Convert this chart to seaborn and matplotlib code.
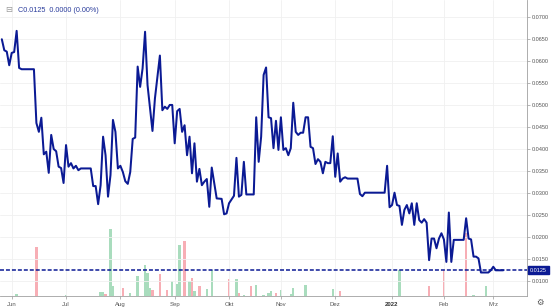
import numpy as np
import pandas as pd
import matplotlib
matplotlib.use("Agg")
import matplotlib.pyplot as plt
import matplotlib.transforms as mtransforms
import seaborn as sns

# ---------------- data ----------------
dates = [
    "2021-05-26", "2021-05-27", "2021-05-28", "2021-05-31", "2021-06-01", "2021-06-02", "2021-06-03",
    "2021-06-04", "2021-06-07", "2021-06-14", "2021-06-15", "2021-06-16", "2021-06-17", "2021-06-18",
    "2021-06-21", "2021-06-22", "2021-06-23", "2021-06-24", "2021-06-25", "2021-06-28", "2021-06-29",
    "2021-06-30", "2021-07-01", "2021-07-02", "2021-07-05", "2021-07-06", "2021-07-07", "2021-07-08",
    "2021-07-09", "2021-07-15", "2021-07-16", "2021-07-19", "2021-07-20", "2021-07-21", "2021-07-22",
    "2021-07-23", "2021-07-26", "2021-07-27", "2021-07-28", "2021-07-29", "2021-07-30", "2021-08-02",
    "2021-08-03", "2021-08-04", "2021-08-05", "2021-08-06", "2021-08-09", "2021-08-10", "2021-08-11",
    "2021-08-12", "2021-08-13", "2021-08-16", "2021-08-17", "2021-08-18", "2021-08-19", "2021-08-20",
    "2021-08-24", "2021-08-25", "2021-08-26", "2021-08-27", "2021-08-30", "2021-08-31", "2021-09-01",
    "2021-09-02", "2021-09-03", "2021-09-06", "2021-09-07", "2021-09-08", "2021-09-09", "2021-09-10",
    "2021-09-13", "2021-09-14", "2021-09-15", "2021-09-16", "2021-09-17", "2021-09-20", "2021-09-21",
    "2021-09-22", "2021-09-24", "2021-09-28", "2021-09-29", "2021-09-30", "2021-10-01", "2021-10-05",
    "2021-10-06", "2021-10-07", "2021-10-08", "2021-10-11", "2021-10-12", "2021-10-15", "2021-10-18",
    "2021-10-19", "2021-10-20", "2021-10-21", "2021-10-22", "2021-10-25", "2021-10-26", "2021-10-27",
    "2021-10-28", "2021-10-29", "2021-11-01", "2021-11-02", "2021-11-03", "2021-11-04", "2021-11-05",
    "2021-11-08", "2021-11-09", "2021-11-10", "2021-11-11", "2021-11-12", "2021-11-15", "2021-11-16",
    "2021-11-17", "2021-11-18", "2021-11-19", "2021-11-22", "2021-11-23", "2021-11-24", "2021-11-25",
    "2021-11-26", "2021-11-29", "2021-11-30", "2021-12-01", "2021-12-02", "2021-12-03", "2021-12-06",
    "2021-12-07", "2021-12-08", "2021-12-14", "2021-12-15", "2021-12-16", "2021-12-17", "2021-12-29",
    "2021-12-30", "2021-12-31", "2022-01-03", "2022-01-04", "2022-01-05", "2022-01-06", "2022-01-07",
    "2022-01-10", "2022-01-11", "2022-01-12", "2022-01-13", "2022-01-14", "2022-01-17", "2022-01-18",
    "2022-01-19", "2022-01-20", "2022-01-21", "2022-01-24", "2022-01-25", "2022-01-26", "2022-01-27",
    "2022-01-28", "2022-01-31", "2022-02-01", "2022-02-02", "2022-02-03", "2022-02-04", "2022-02-07",
    "2022-02-11", "2022-02-14", "2022-02-15", "2022-02-16", "2022-02-17", "2022-02-18", "2022-02-21",
    "2022-02-22", "2022-02-25", "2022-02-28", "2022-03-01", "2022-03-02", "2022-03-07",
]
prices = [
    0.0649, 0.0624, 0.0621, 0.0590, 0.0618, 0.0620, 0.0668,
    0.0584, 0.0581, 0.0581, 0.0459, 0.0439, 0.0471, 0.0388,
    0.0394, 0.0346, 0.0432, 0.0400, 0.0395, 0.0360, 0.0357,
    0.0323, 0.0409, 0.0360, 0.0368, 0.0356, 0.0362, 0.0352,
    0.0356, 0.0356, 0.0316, 0.0316, 0.0275, 0.0318, 0.0428,
    0.0386, 0.0292, 0.0341, 0.0466, 0.0439, 0.0356, 0.0362,
    0.0348, 0.0327, 0.0321, 0.0348, 0.0423, 0.0426, 0.0587,
    0.0541, 0.0583, 0.0666, 0.0545, 0.0492, 0.0441, 0.0515,
    0.0612, 0.0488, 0.0496, 0.0491, 0.0500, 0.0500, 0.0413,
    0.0486, 0.0491, 0.0439, 0.0454, 0.0386, 0.0428, 0.0345,
    0.0413, 0.0326, 0.0355, 0.0318, 0.0326, 0.0332, 0.0269,
    0.0358, 0.0288, 0.0287, 0.0252, 0.0254, 0.0277, 0.0294,
    0.0380, 0.0292, 0.0296, 0.0371, 0.0297, 0.0297, 0.0472,
    0.0371, 0.0428, 0.0568, 0.0585, 0.0472, 0.0470, 0.0402,
    0.0464, 0.0398, 0.0472, 0.0398, 0.0402, 0.0386, 0.0402,
    0.0505, 0.0439, 0.0432, 0.0437, 0.0437, 0.0472, 0.0472,
    0.0405, 0.0402, 0.0366, 0.0377, 0.0371, 0.0345, 0.0371,
    0.0368, 0.0368, 0.0429, 0.0337, 0.0390, 0.0326, 0.0333,
    0.0336, 0.0333, 0.0333, 0.0298, 0.0293, 0.0301, 0.0301,
    0.0362, 0.0268, 0.0273, 0.0301, 0.0273, 0.0271, 0.0228,
    0.0262, 0.0273, 0.0254, 0.0277, 0.0228, 0.0277, 0.0239,
    0.0233, 0.0241, 0.0233, 0.0148, 0.0197, 0.0197, 0.0175,
    0.0197, 0.0209, 0.0195, 0.0144, 0.0256, 0.0144, 0.0194,
    0.0194, 0.0243, 0.0197, 0.0195, 0.0156, 0.0156, 0.0152,
    0.0120, 0.0120, 0.0125, 0.0133, 0.0125, 0.0125,
]

vol_dates = [
    "2021-06-03", "2021-06-15", "2021-07-01", "2021-07-21", "2021-07-22", "2021-07-23", "2021-07-27",
    "2021-07-28", "2021-08-03", "2021-08-06", "2021-08-11", "2021-08-16", "2021-08-17", "2021-08-18",
    "2021-08-19", "2021-08-24", "2021-08-27", "2021-08-31", "2021-09-02", "2021-09-03", "2021-09-07",
    "2021-09-09", "2021-09-10", "2021-09-13", "2021-09-15", "2021-09-20", "2021-09-22", "2021-10-01",
    "2021-10-06", "2021-10-07", "2021-10-11", "2021-10-14", "2021-10-18", "2021-10-21", "2021-10-25",
    "2021-10-26", "2021-10-28", "2021-11-01", "2021-11-05", "2021-11-08", "2021-11-15", "2021-11-30",
    "2021-12-03", "2022-01-06", "2022-01-24", "2022-02-01", "2022-02-14", "2022-02-17", "2022-02-24",
]
vol_values = [
    2200, 49500, 1000, 3800, 3800, 2500, 67500,
    10500, 8500, 2800, 20500, 31500, 22800, 8200,
    6000, 22000, 6000, 15200, 12200, 51500, 55500,
    15500, 18000, 5000, 10500, 7000, 26200, 17200,
    17000, 3500, 1500, 10500, 11500, 1500, 2800,
    4700, 3500, 6200, 2200, 8200, 11500, 7200,
    4800, 26200, 10500, 26200, 63500, 1500, 10500,
]
vol_dir = [
    "up", "down", "up", "up", "up", "down", "up",
    "up", "down", "up", "up", "up", "up", "up",
    "down", "down", "down", "up", "up", "up", "down",
    "up", "down", "up", "down", "up", "up", "down",
    "up", "down", "up", "down", "up", "up", "up",
    "up", "down", "up", "up", "up", "up", "up",
    "down", "up", "down", "down", "down", "up", "up",
]

month_ticks = ["2021-06-01", "2021-07-01", "2021-08-02", "2021-09-01", "2021-10-01",
               "2021-11-01", "2021-12-01", "2022-01-03", "2022-02-01", "2022-03-01"]
month_labels = ["Jun", "Jul", "Aug", "Sep", "Okt", "Nov", "Dez", "2022", "Feb", "Mrz"]
price_ticks = [0.0100, 0.0150, 0.0200, 0.0250, 0.0300, 0.0350, 0.0400,
               0.0450, 0.0500, 0.0550, 0.0600, 0.0650, 0.0700]
last_price = 0.0125
header_text = "C0.0125  0.0000 (0.00%)"

# ---------------- style ----------------
NAVY = "#0b1a94"
GREEN = "#a9dcbd"
PINK = "#f7aeb5"

sns.set_theme(style="white")
plt.rcParams["font.family"] = ["Liberation Sans", "DejaVu Sans"]

bdays = pd.bdate_range("2021-05-20", "2022-03-31")
pos = bdays.get_indexer(pd.to_datetime(dates))
vpos = bdays.get_indexer(pd.to_datetime(vol_dates))
tpos = bdays.get_indexer(pd.to_datetime(month_ticks))

W, H = 552, 308
fig = plt.figure(figsize=(W / 100, H / 100), dpi=100)
fig.patch.set_facecolor("white")
ax = fig.add_axes([0, 12 / H, 527 / W, 296 / H])
ax2 = ax.twinx()

# volume (behind)
sns.barplot(x=vpos, y=vol_values, hue=vol_dir, palette={"up": GREEN, "down": PINK},
            native_scale=True, width=0.95, dodge=False, legend=False, errorbar=None,
            saturation=1, linewidth=0, ax=ax2)
ax2.set_ylim(0, max(vol_values) * 296 / 67.5)
ax2.set_yticks([])
ax2.set_ylabel("")
for s in ax2.spines.values():
    s.set_visible(False)

# price line (front)
ax.set_zorder(ax2.get_zorder() + 1)
ax.patch.set_visible(False)
sns.lineplot(x=pos, y=prices, ax=ax, color=NAVY, linewidth=1.45, estimator=None)
ax.axhline(last_price, color=NAVY, lw=1.1, ls=(0, (2.6, 1.3)))

# axes limits
px_per_day = (493.3 - 11.7) / (tpos[-1] - tpos[0])
ax.set_xlim(tpos[0] - 11.7 / px_per_day, tpos[-1] + (527 - 493.3) / px_per_day)
ax.set_ylim(0.00667, 0.0738)

# grid
ax.grid(True, color="#f0f0f0", lw=0.6)
ax.set_axisbelow(True)

# y axis on right
ax.yaxis.tick_right()
ax.set_yticks(price_ticks)
ax.set_yticklabels([f"{v:.4f}" for v in price_ticks])
ax.tick_params(axis="y", direction="out", length=2, width=0.5, color="#999999",
               labelsize=4.0, labelcolor="#555555", pad=1.5, right=True, left=False)
ax.set_ylabel("")

# x axis
ax.set_xticks(tpos)
ax.set_xticklabels(month_labels)
ax.tick_params(axis="x", direction="out", length=2, width=0.5, color="#999999",
               labelsize=4.3, labelcolor="#555555", pad=2.5, bottom=True)
for lbl in ax.get_xticklabels():
    if lbl.get_text() == "2022":
        lbl.set_fontweight("bold")
        lbl.set_color("#333333")
ax.set_xlabel("")

for name, s in ax.spines.items():
    s.set_visible(name in ("right", "bottom"))
    s.set_color("#a0a0a0")
    s.set_linewidth(0.6)

# last price label
trans = mtransforms.blended_transform_factory(ax.transAxes, ax.transData)
ax.text(1.006, last_price, f"{last_price:.4f}", transform=trans, ha="left", va="center",
        color="white", fontsize=4.0, clip_on=False,
        bbox=dict(boxstyle="square,pad=0.3", fc=NAVY, ec=NAVY))

# header
fig.text(5 / W, 1 - 10 / H, "\u229f", fontsize=6, color="#9a9a9a", va="center", ha="left",
         family=["DejaVu Sans"])
fig.text(18 / W, 1 - 10 / H, header_text, fontsize=5.2, color="#2a3c9c", va="center", ha="left")

# settings gear
fig.text(539.5 / W, 1 - 302 / H, "\u2699", fontsize=6, color="#555555", va="center", ha="center",
         family=["DejaVu Sans"])

fig.savefig("out.png", dpi=100, facecolor="white")
